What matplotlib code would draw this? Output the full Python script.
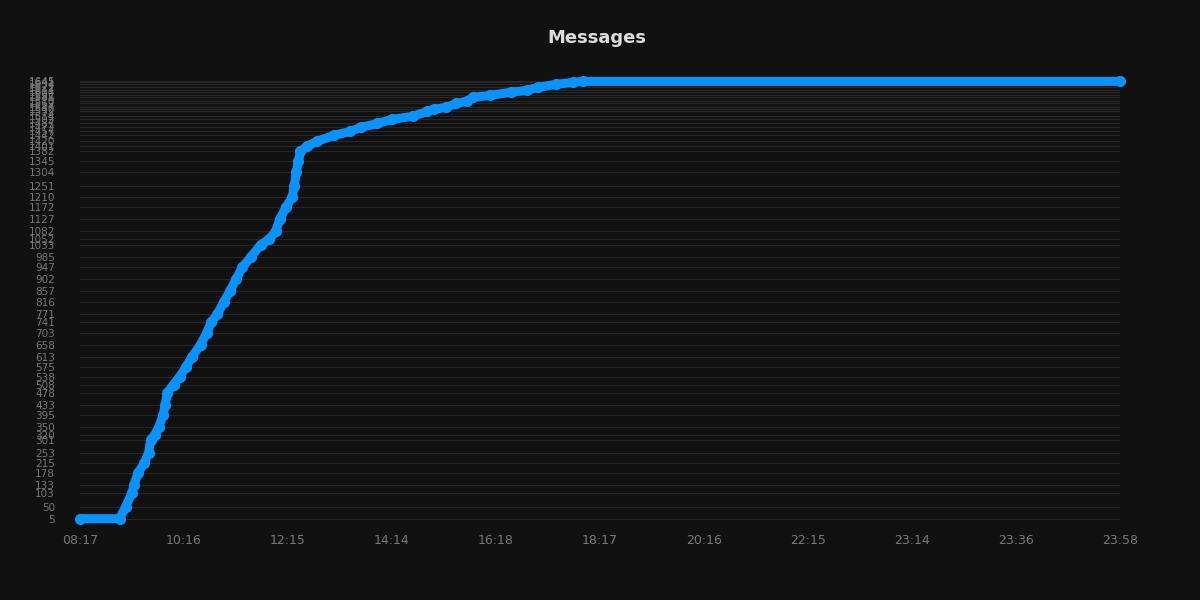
import matplotlib
matplotlib.use('Agg')
import matplotlib.pyplot as plt

# position of each sample along the time axis, and cumulative message count
point_index = [0, 19, 22, 25, 26, 28, 31, 33, 34, 36, 38, 40, 41, 42, 45, 48, 51, 54,
               58, 61, 63, 66, 69, 72, 75, 78, 82, 87, 91, 94, 96, 99, 102, 103, 104,
               105, 106, 109, 114, 122, 130, 135, 143, 150, 160, 167, 170, 176, 181,
               186, 189, 197, 207, 215, 220, 229, 237, 242, 500]
messages = [5, 5, 50, 103, 133, 178, 215, 253, 301, 320, 350, 395, 433, 478, 508, 538,
            575, 613, 658, 703, 741, 771, 816, 857, 902, 947, 985, 1033, 1052, 1082,
            1127, 1172, 1210, 1251, 1304, 1345, 1382, 1401, 1420, 1442, 1457, 1472,
            1487, 1502, 1514, 1532, 1540, 1547, 1562, 1570, 1585, 1592, 1604, 1611,
            1622, 1634, 1641, 1645, 1645]

time_labels = ['08:17', '10:16', '12:15', '14:14', '16:18', '18:17',
               '20:16', '22:15', '23:14', '23:36', '23:58']
time_ticks = [0, 50, 100, 150, 200, 250, 300, 350, 400, 450, 500]

bg = '#111111'
fig = plt.figure(figsize=(12, 6), dpi=100, facecolor=bg)
ax = fig.add_axes([80/1200, 80/600, 1040/1200, 440/600], facecolor=bg)

ax.plot(point_index, messages, color='#0a94fb', lw=6.5, marker='o', ms=7,
        solid_capstyle='round', solid_joinstyle='round', zorder=3, clip_on=False)

ax.set_xlim(0, 500)
ax.set_ylim(0, 1650)
ax.set_xticks(time_ticks)
ax.set_xticklabels(time_labels)
yvals = sorted(set(messages))
ax.set_yticks(yvals)
ax.set_yticklabels([str(v) for v in yvals])
ax.tick_params(axis='x', colors='#777777', labelsize=9, length=0, pad=10)
ax.tick_params(axis='y', colors='#777777', labelsize=7.5, length=0, pad=18)
ax.grid(axis='y', color='#262626', lw=0.8)
for s in ax.spines.values():
    s.set_visible(False)

fig.text(0.497, 0.937, 'Messages', color='#dddddd', fontsize=13, fontweight='bold',
         ha='center', va='center')

fig.savefig('out.png', facecolor=bg)
